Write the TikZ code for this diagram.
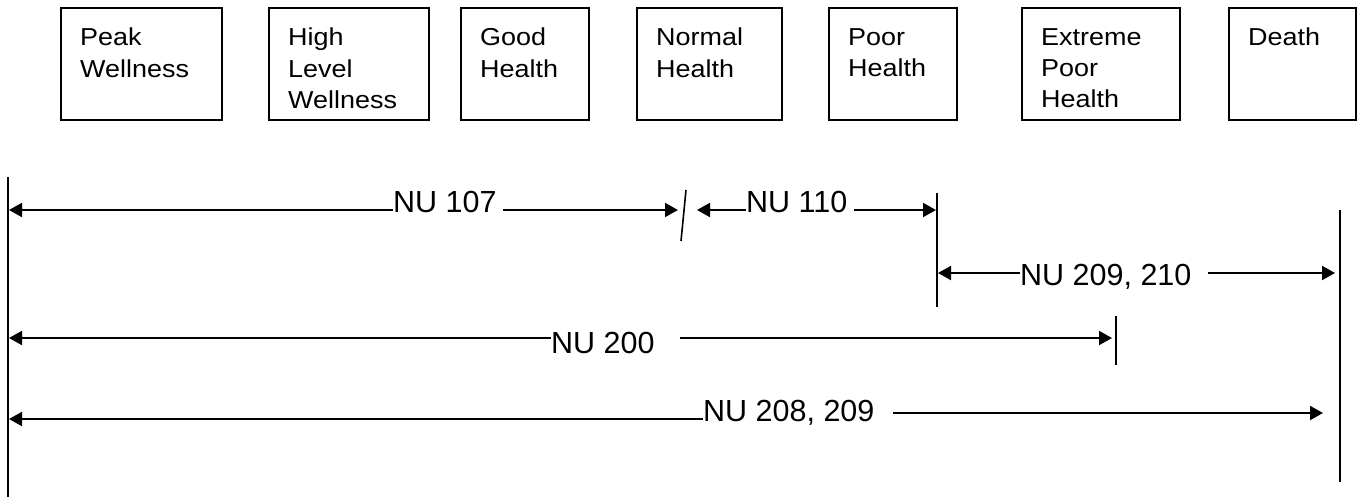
\documentclass[tikz,border=0pt]{standalone}
\usepackage{fontspec}
\setmainfont{Liberation Sans}
\newfontfamily\stagefont[FakeStretch=1.1]{Liberation Sans}
\usetikzlibrary{arrows.meta,positioning}
\tikzset{
stage/.style={draw,line width=1.6pt,minimum height=112pt,anchor=north west,inner sep=0pt},
stagetext/.style={anchor=north west,align=left,inner sep=0pt,font=\stagefont\fontsize{24.5}{31.3}\selectfont},
course/.style={anchor=base west,inner sep=0pt,font=\fontsize{30.5}{36}\selectfont},
flow/.style={-{Triangle[length=13pt,width=14pt]},line width=2pt},
bar/.style={line width=2pt},
slash/.style={line width=1.6pt}
}
\begin{document}
\begin{tikzpicture}[x=1pt,y=-1pt]
\useasboundingbox (0,0) rectangle (1357,497);
\node[stage,minimum width=161pt](peak) at (60,7){};
\node[stage,minimum width=160pt](highlvl) at (268,7){};
\node[stage,minimum width=128pt](good) at (460,7){};
\node[stage,minimum width=145pt](normal) at (636,7){};
\node[stage,minimum width=128pt](poor) at (828,7){};
\node[stage,minimum width=158pt](extreme) at (1021,7){};
\node[stage,minimum width=127pt](death) at (1228,7){};
\node[stagetext] at ([shift={(20,21)}]peak.north west){Peak\\Wellness};
\node[stagetext] at ([shift={(20,21)}]highlvl.north west){High\\Level\\Wellness};
\node[stagetext] at ([shift={(20,21)}]good.north west){Good\\Health};
\node[stagetext] at ([shift={(20,21)}]normal.north west){Normal\\Health};
\node[stagetext] at ([shift={(20,21)}]poor.north west){Poor\\Health};
\node[stagetext] at ([shift={(20,21)}]extreme.north west){Extreme\\Poor\\Health};
\node[stagetext] at ([shift={(20,21)}]death.north west){Death};
\coordinate(lt) at (8,177);\coordinate(lb) at (8,497);
\coordinate(pt) at (937,193);\coordinate(pb) at (937,307);
\coordinate(rt) at (1340,210);\coordinate(rb) at (1340,482);
\coordinate(et) at (1116,316);\coordinate(eb) at (1116,365);
\coordinate(st) at (686,190);\coordinate(sb) at (681,241);
\draw[bar](lt)--(lb);\draw[bar](pt)--(pb);\draw[bar](rt)--(rb);\draw[bar](et)--(eb);\draw[slash](st)--(sb);
\coordinate(a107l) at (9,210);\coordinate(a107r) at (678,210);
\coordinate(a110l) at (697,210);\coordinate(a110r) at (936,210);
\coordinate(a209l) at (938,273);\coordinate(a209r) at (1335,273);
\coordinate(a200l) at (9,338);\coordinate(a200r) at (1112,338);
\coordinate(a208l) at (9,419);\coordinate(a208r) at (1323,413);
\node[course](nu107) at (393,213){NU 107};
\node[course](nu110) at (746,213){NU 110};
\node[course](nu209) at (1020,285){NU 209, 210};
\node[course](nu200) at (551,353){NU 200};
\node[course](nu208) at (703,421){NU 208, 209};
\draw[flow](nu107.west|-a107l)--(a107l);\draw[flow]([xshift=6pt]nu107.east|-a107r)--(a107r);
\draw[flow](nu110.west|-a110l)--(a110l);\draw[flow]([xshift=6pt]nu110.east|-a110r)--(a110r);
\draw[flow](nu209.west|-a209l)--(a209l);\draw[flow]([xshift=16pt]nu209.east|-a209r)--(a209r);
\draw[flow](nu200.west|-a200l)--(a200l);\draw[flow]([xshift=25pt]nu200.east|-a200r)--(a200r);
\draw[flow](nu208.west|-a208l)--(a208l);\draw[flow]([xshift=18pt]nu208.east|-a208r)--(a208r);
\end{tikzpicture}
\end{document}
